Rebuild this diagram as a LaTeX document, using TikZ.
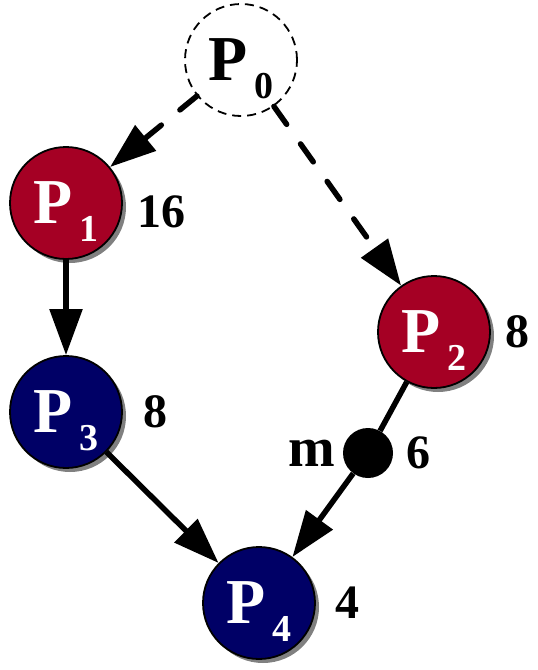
\documentclass[tikz,border=0pt]{standalone}
\usepackage{fontspec}
\setmainfont{Liberation Serif}
\usetikzlibrary{arrows.meta, shadows, positioning}
\definecolor{vinho}{RGB}{165, 0, 36}
\definecolor{marinho}{RGB}{0, 0, 102}
\newcommand{\proc}[1]{{\fontsize{64}{64}\selectfont P\hspace{7pt}\raisebox{-18pt}[0pt][0pt]{\fontsize{38}{38}\selectfont #1}}}

\begin{document}
\begin{tikzpicture}[x=1pt, y=-1pt,
  no/.style={circle, draw=black, line width=1.8pt, minimum size=112pt, inner sep=0pt,
    font=\bfseries, text=white,
    drop shadow={shadow xshift=4pt, shadow yshift=-4pt, fill=black!50, opacity=1}},
  peso/.style={font=\bfseries\fontsize{48}{48}\selectfont, inner sep=0pt},
  seta/.style={line width=5.5pt, -{Triangle[length=46pt, width=32pt]}},
  tracejada/.style={seta, line cap=round, dash pattern=on 22pt off 24pt}]
  \useasboundingbox (0,0) rectangle (538,670);

  \node[circle, draw, line width=1.8pt, dash pattern=on 9pt off 6pt, minimum size=112pt,
    inner sep=0pt, font=\bfseries] (p0) at (241,60) {\proc{0}};
  \node[no, fill=vinho] (p1) at (66,203) {\proc{1}};
  \node[no, fill=vinho] (p2) at (434,332) {\proc{2}};
  \node[no, fill=marinho] (p3) at (66,412) {\proc{3}};
  \node[no, fill=marinho] (p4) at (259,603) {\proc{4}};
  \node[circle, fill=black, minimum size=50pt, inner sep=0pt] (m) at (368,453) {};

  % pesos
  \node[peso, right=14pt of p1, yshift=-9pt] (w1) {16};
  \node[peso, right=14pt of p2] (w2) {8};
  \node[peso, right=20pt of p3] (w3) {8};
  \node[peso, right=19pt of p4] (w4) {4};
  \node[peso, right=13pt of m] (wm) {6};
  \node[peso, font=\bfseries\fontsize{56}{56}\selectfont, left=7pt of m] (lm) {m};

  \draw[tracejada] (p0) -- (p1);
  \draw[tracejada] (p0) -- (p2);
  \draw[seta] (p1) -- (p3);
  \draw[seta] (p3) -- (p4);
  \draw[line width=5.5pt] (p2) -- (m);
  \draw[seta] (m) -- (p4);
\end{tikzpicture}
\end{document}
